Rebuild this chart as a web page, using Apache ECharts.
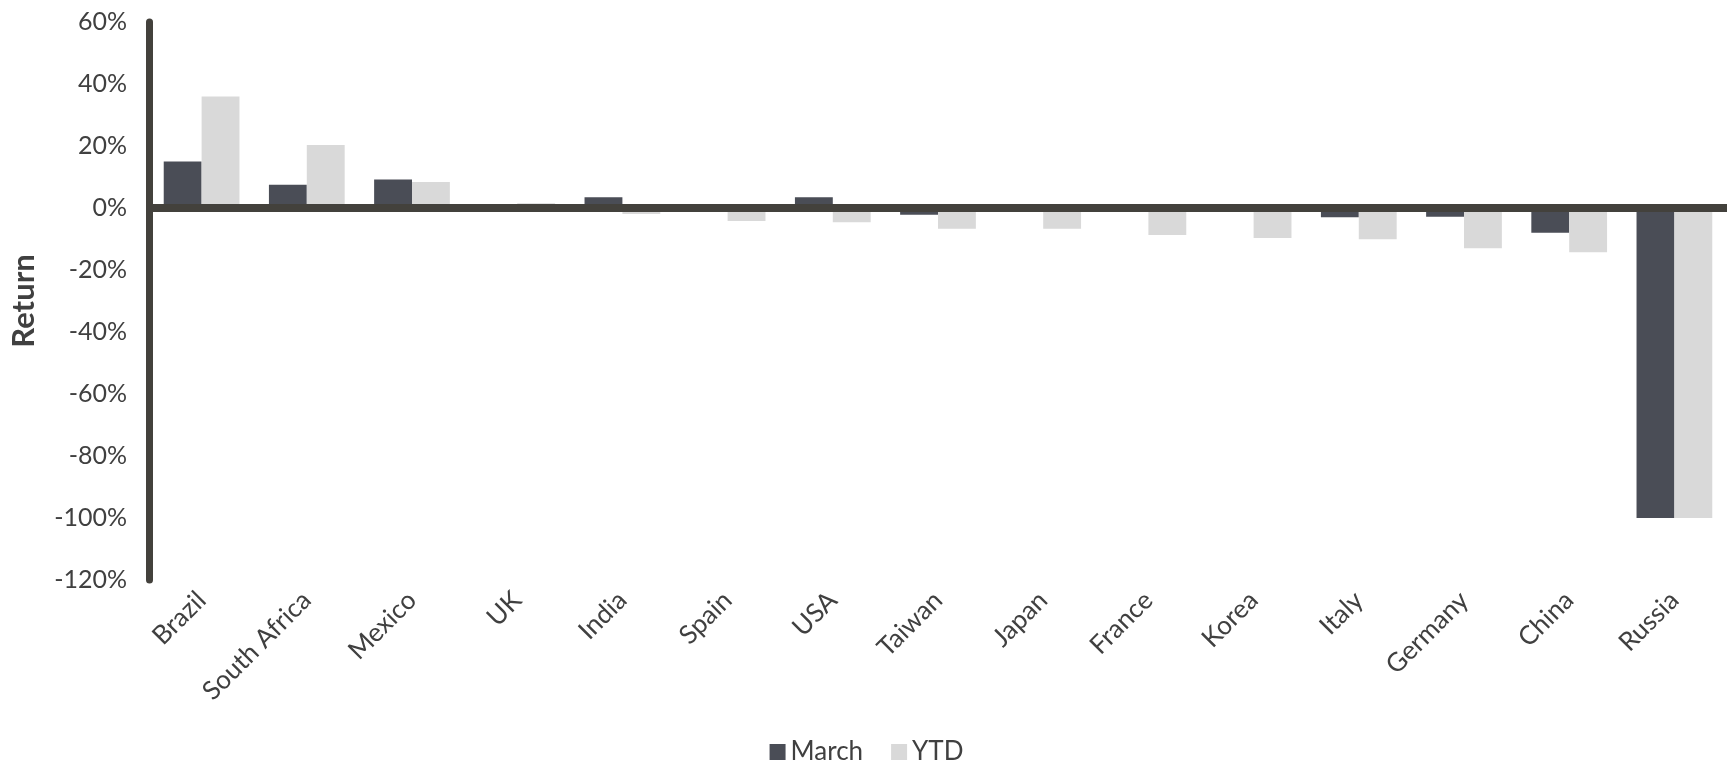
<!DOCTYPE html>
<html>
<head>
<meta charset="utf-8">
<script src="https://cdn.jsdelivr.net/npm/echarts@6/dist/echarts.min.js"></script>
<style>
  html, body { margin: 0; padding: 0; background: #fff; }
  #main { width: 1733px; height: 762px; }
</style>
</head>
<body>
<div id="main"></div>
<script>
// country returns, in percent
var countries = ['Brazil', 'South Africa', 'Mexico', 'UK', 'India', 'Spain', 'USA', 'Taiwan',
                 'Japan', 'France', 'Korea', 'Italy', 'Germany', 'China', 'Russia'];
var marchReturns = [15, 7.5, 9.2, 0, 3.5, 0, 3.5, -2.2, 0, 0, 0, -3, -2.8, -8, -100];
var ytdReturns = [36, 20.3, 8.4, 1.5, -1.9, -4.2, -4.6, -6.7, -6.7, -8.7, -9.7, -10.1, -13, -14.3, -100];

var textColor = '#404040';
var axisColor = '#43413c';
var fontName = 'Lato';

function initChart() {
    var myChart = echarts.init(document.getElementById('main'));

    var option = {
        animation: false,
        textStyle: { fontFamily: fontName, color: textColor },
        grid: { left: 145, right: 6, top: 22, bottom: 182 },
        legend: {
            top: 734,
            left: 'center',
            itemWidth: 16,
            itemHeight: 16,
            itemGap: 28,
            icon: 'rect',
            textStyle: { fontSize: 26, color: textColor, fontFamily: fontName },
            data: ['March', 'YTD']
        },
        xAxis: {
            type: 'category',
            data: countries,
            axisLine: { show: false, onZero: false },
            axisTick: { show: false },
            axisLabel: {
                interval: 0,
                rotate: 45,
                margin: 16,
                fontSize: 26,
                color: textColor,
                fontFamily: fontName
            }
        },
        yAxis: {
            type: 'value',
            min: -120,
            max: 60,
            interval: 20,
            name: 'Return',
            nameLocation: 'middle',
            nameGap: 110,
            nameTextStyle: { fontSize: 31, fontWeight: 'bold', color: textColor, fontFamily: fontName },
            axisLine: { show: true, lineStyle: { color: axisColor, width: 7 } },
            axisTick: { show: false },
            splitLine: { show: false },
            axisLabel: {
                formatter: '{value}%',
                fontSize: 25,
                margin: 22,
                color: textColor,
                fontFamily: fontName
            }
        },
        series: [
            {
                name: 'March',
                type: 'bar',
                data: marchReturns,
                barGap: '0%',
                barCategoryGap: '28%',
                itemStyle: { color: '#4a4d56' }
            },
            {
                name: 'YTD',
                type: 'bar',
                data: ytdReturns,
                barGap: '0%',
                barCategoryGap: '28%',
                itemStyle: { color: '#d9d9d9' },
                // zero line drawn over the bars
                markLine: {
                    silent: true,
                    symbol: 'none',
                    z: 10,
                    label: { show: false },
                    lineStyle: { color: axisColor, width: 8, type: 'solid' },
                    data: [{ yAxis: 0 }]
                }
            }
        ]
    };

    myChart.setOption(option);
}

initChart();
</script>
</body>
</html>
